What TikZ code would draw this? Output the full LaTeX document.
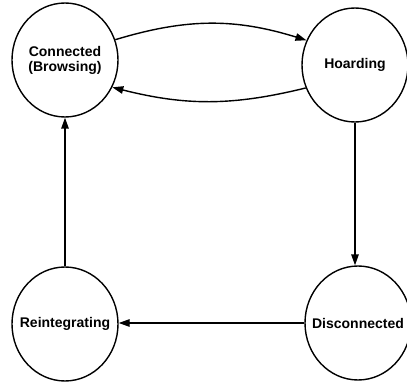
\documentclass[tikz,border=0pt]{standalone}
\usepackage{fontspec}
\setmainfont{Liberation Sans}
\usetikzlibrary{shapes.geometric,arrows.meta}
\tikzset{
  statetext/.style={font=\bfseries\fontsize{14}{15}\selectfont, align=center, inner sep=0pt},
  state/.style={ellipse, draw, line width=1.4pt, minimum width=106pt, minimum height=114pt,
    inner sep=0pt, label={[statetext]center:#1}},
  trans/.style={line width=1.4pt, -{Triangle[length=11pt,width=7.5pt]}}
}
\begin{document}
\begin{tikzpicture}[x=1pt,y=-1pt]
  \useasboundingbox (0,0) rectangle (407,385);
  \node[state={Connected\\(Browsing)}] (con) at (65,60) {};
  \node[state={Hoarding}] (hoa) at (355,65) {};
  \node[state={Disconnected}] (dis) at (358,323) {};
  \node[state={Reintegrating}] (rei) at (65,324) {};

  \draw[trans] (con.22) to[bend left=17] (hoa.153);
  \draw[trans] (hoa.205) to[bend left=14] (con.-30);
  \draw[trans] (hoa.south) -- (hoa.south |- dis.north);
  \draw[trans] (dis.west) -- (dis.west -| rei.east);
  \draw[trans] (rei.north) -- (con.south);
\end{tikzpicture}
\end{document}
